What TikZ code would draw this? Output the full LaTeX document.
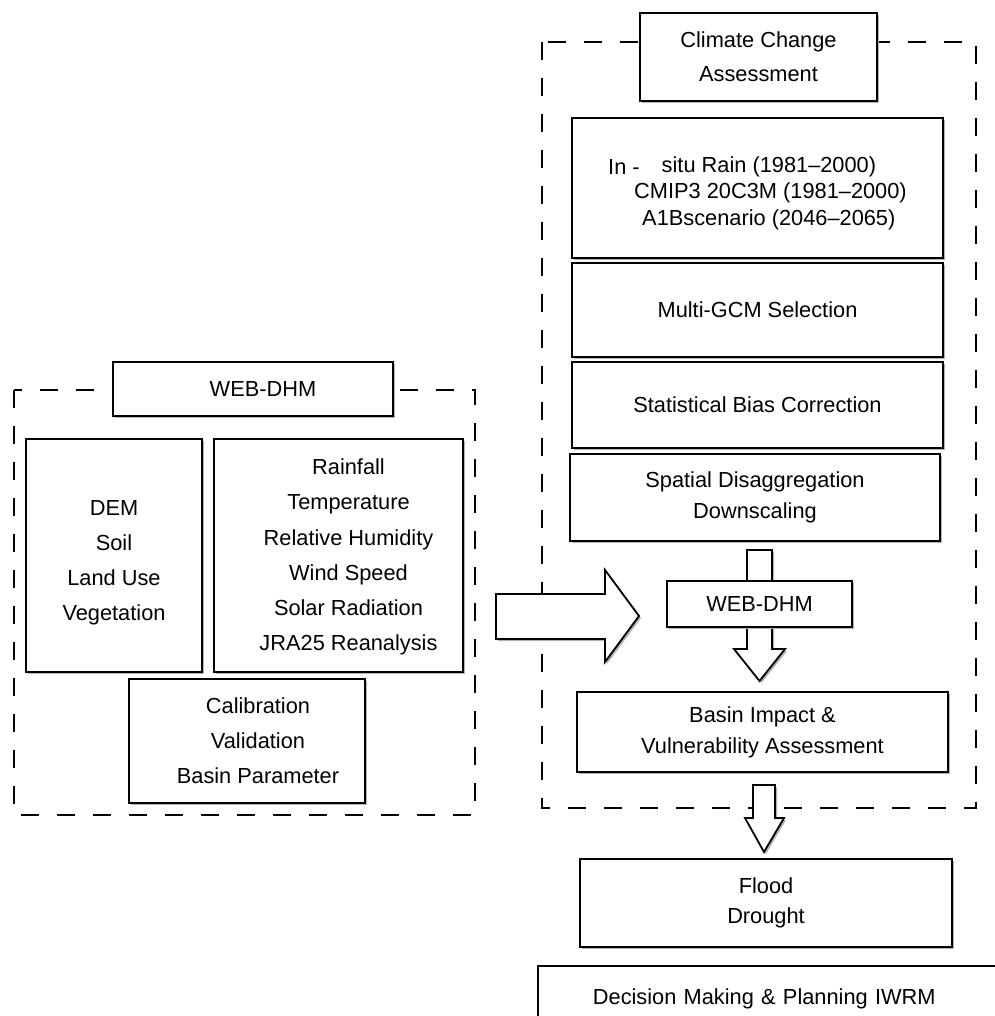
\documentclass[tikz,border=0pt]{standalone}
\usepackage{fontspec}
\setmainfont{Liberation Sans}
\usetikzlibrary{shadows}

\newcommand{\stacklines}[1]{\begin{tabular}{@{}c@{}}#1\end{tabular}}

\begin{document}
\begin{tikzpicture}[
        x=0.25mm, y=-0.25mm,
        box/.style={draw, fill=white, line width=0.45mm, inner sep=0pt, align=center,
            font=\fontsize{15.5}{24.9}\selectfont,
            drop shadow={shadow xshift=0.5mm, shadow yshift=-0.5mm, fill=black!30, opacity=1}},
        lines/.style={font=\fontsize{15.5}{#1}\selectfont},
        frame/.style={line width=0.45mm, dash pattern=on 4.5mm off 4.5mm},
        blockarrow/.style={draw, fill=white, line width=0.45mm, line join=miter,
            drop shadow={shadow xshift=0.5mm, shadow yshift=-0.5mm, fill=black!30, opacity=1}},
    ]
        \useasboundingbox (0,0) rectangle (994,1016);

        % Dashed frames
        \draw[frame] (14,390) rectangle (475,815);
        \draw[frame] (542,42) rectangle (976,808);

        % Block arrows
        \draw[blockarrow] (496,594) -- (605,594) -- (605,570) -- (639,616)
            -- (605,662) -- (605,639) -- (496,639) -- cycle;
        \draw[blockarrow] (747,550) -- (772,550) -- (772,649) -- (785,649)
            -- (759.5,681) -- (734,649) -- (747,649) -- cycle;
        \draw[blockarrow] (753,785) -- (775,785) -- (775,818) -- (784,818)
            -- (764,852) -- (745,818) -- (753,818) -- cycle;

        % Define WEB-DHM Nodes (left)
        \node[box, minimum width=70mm, minimum height=13.5mm] (webL) at (253,389) {\hspace*{5mm}WEB-DHM};
        \node[box, minimum width=44mm, minimum height=58.25mm] (static) at (114,555.5)
            {\rule{0pt}{7.4mm}DEM\\Soil\\Land Use\\Vegetation};
        \node[box, minimum width=62.25mm, minimum height=58.25mm] (forcing) at (338.5,555.5)
            {\hspace*{5mm}\stacklines{Rainfall\\Temperature\\Relative Humidity\\Wind Speed\\Solar Radiation\\JRA25 Reanalysis}};
        \node[box, minimum width=59mm, minimum height=31mm] (calib) at (247,741)
            {\hspace*{5.5mm}\stacklines{Calibration\\Validation\\Basin Parameter}};

        % Define Climate Change Nodes (right)
        \node[box, lines=24.2, minimum width=59.25mm, minimum height=22mm] (climate) at (758.5,57)
            {Climate Change\\Assessment};
        \node[box, lines=19, align=left, minimum width=92.75mm, minimum height=35mm] (insitu) at (757.5,188)
            {\rule{0pt}{6.5mm}\raisebox{-0.5mm}{In -}\hspace{5.5mm}situ Rain (1981--2000)\\
             \hspace*{6.5mm}CMIP3 20C3M (1981--2000)\\
             \hspace*{8.5mm}A1Bscenario (2046--2065)};
        \node[box, minimum width=92.75mm, minimum height=23.5mm] (gcm) at (757.5,310) {Multi-GCM Selection};
        \node[box, minimum width=92.75mm, minimum height=21.5mm] (bias) at (757.5,405) {Statistical Bias Correction};
        \node[box, lines=22, minimum width=92.5mm, minimum height=21.75mm] (disagg) at (755,497.5)
            {Spatial Disaggregation\\Downscaling};
        \node[box, minimum width=46.25mm, minimum height=11.5mm] (webR) at (759.5,604) {WEB-DHM};
        \node[box, lines=22, minimum width=92.75mm, minimum height=20mm] (impact) at (762.5,732)
            {Basin Impact \&\\Vulnerability Assessment};

        % Outcome Nodes (below the frame)
        \node[box, lines=21.3, minimum width=93mm, minimum height=22mm] (flood) at (766,903) {Flood\\Drought};
        \node[box, anchor=north west, align=left, text width=120mm, inner xsep=13.75mm,
            minimum height=16.5mm] (decision) at (537,965) {Decision Making \& Planning IWRM};
    \end{tikzpicture}
\end{document}
